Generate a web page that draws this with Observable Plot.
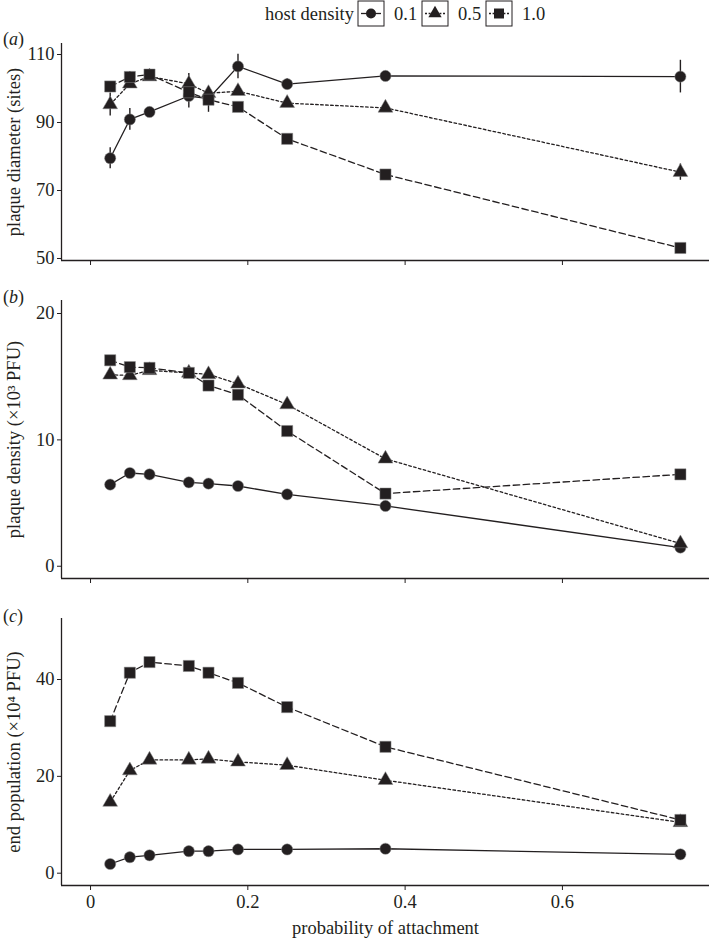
<!DOCTYPE html>
<html>
<head>
<meta charset="utf-8">
<script src="https://cdn.jsdelivr.net/npm/d3@7"></script>
<script src="https://cdn.jsdelivr.net/npm/@observablehq/plot@0.6"></script>
<style>
  html, body { margin: 0; padding: 0; background: #fff; }
  #chart { position: relative; width: 718px; height: 939px; font-family: "Liberation Serif", "Times New Roman", Times, "DejaVu Serif", serif; color: #231f20; }
  #chart > * { position: absolute; left: 0; }
  #chart svg, #chart svg text { font-family: "Liberation Serif", "Times New Roman", Times, "DejaVu Serif", serif !important; }
  #chart svg [aria-label$="tick label"], #chart svg [aria-label$="tick label"] text { font-size: 18.5px !important; }
  .plab { font-size: 18px; left: 3px !important; }
</style>
</head>
<body>
<div id="chart"></div>
<script>
// ---------- data ----------
const attachment = [0.025, 0.05, 0.075, 0.125, 0.15, 0.1875, 0.25, 0.375, 0.75];
const densities = ["0.1", "0.5", "1.0"];

// (a) plaque diameter (sites), with error half-widths
const diameter01 = [79.5, 90.9, 93.1, 97.8, 97.0, 106.5, 101.3, 103.7, 103.5];
const diameter05 = [95.3, 101.4, 103.5, 101.4, 98.6, 99.2, 95.7, 94.3, 75.4];
const diameter10 = [100.6, 103.4, 104.1, 98.9, 96.7, 94.6, 85.2, 74.7, 53.1];
const diamErr01 = [3.1, 3.2, 0.8, 3.5, 1.0, 3.6, 1.6, 0.6, 4.8];
const diamErr05 = [3.4, 1.0, 1.0, 3.0, 1.0, 0.8, 0.8, 0.6, 2.4];
const diamErr10 = [1.0, 1.5, 1.0, 1.0, 3.7, 0.6, 0.6, 0.5, 0.8];

// (b) plaque density (x10^3 PFU)
const plaqueDensity01 = [6.46, 7.38, 7.27, 6.64, 6.54, 6.35, 5.69, 4.77, 1.48];
const plaqueDensity05 = [15.15, 15.1, 15.5, 15.3, 15.18, 14.44, 12.8, 8.5, 1.8];
const plaqueDensity10 = [16.3, 15.76, 15.7, 15.3, 14.3, 13.57, 10.7, 5.75, 7.27];

// (c) end population (x10^4 PFU)
const endPop01 = [1.9, 3.3, 3.7, 4.55, 4.55, 4.9, 4.9, 5.05, 3.9];
const endPop05 = [14.7, 21.2, 23.4, 23.4, 23.6, 23.0, 22.3, 19.2, 10.5];
const endPop10 = [31.4, 41.4, 43.6, 42.8, 41.4, 39.3, 34.3, 26.1, 11.0];

const xTicks = [0, 0.2, 0.4, 0.6];
const yTicksA = [50, 70, 90, 110];
const yTicksB = [0, 10, 20];
const yTicksC = [0, 20, 40];

// ---------- styling ----------
const INK = "#231f20";
const FONT = "'Liberation Serif', 'Times New Roman', Times, 'DejaVu Serif', serif";
const seriesStyle = {
  "0.1": {symbol: "circle", r: 5.6, dash: null},
  "0.5": {symbol: "triangle", r: 5.5, dash: "2.6,2.4"},
  "1.0": {symbol: "square", r: 6.3, dash: "6.5,3.5"}
};

function rows(v01, v05, v10, e01, e05, e10) {
  const out = [];
  [[v01, e01, "0.1"], [v05, e05, "0.5"], [v10, e10, "1.0"]].forEach(([vals, errs, dens]) => {
    vals.forEach((v, i) => out.push({x: attachment[i], y: v, e: errs ? errs[i] : 0, density: dens}));
  });
  return out;
}

const xDomain = [-0.0369, 0.787];

function panel({data, yDomain, yTicks, yLabel, height, marginBottom, showXLabels, errors}) {
  const marks = [
    Plot.ruleX([xDomain[0]], {stroke: INK, strokeWidth: 1.3}),
    Plot.ruleY([yDomain[0]], {stroke: INK, strokeWidth: 1.3}),
    Plot.axisY({ticks: yTicks, tickSize: 4, tickPadding: 3, label: yLabel, labelAnchor: "center",
      labelArrow: false, labelOffset: 55, fontSize: 18.5, stroke: INK}),
    Plot.axisX({ticks: xTicks, tickSize: 5, tickPadding: 4, fontSize: 18.5,
      tickFormat: showXLabels ? (d => d === 0 ? "0" : d3.format(".1f")(d)) : (() => ""),
      label: showXLabels ? "probability of attachment" : null, labelAnchor: "center", labelArrow: false,
      labelOffset: 48})
  ];
  for (const dens of densities) {
    const s = seriesStyle[dens];
    const sub = data.filter(d => d.density === dens);
    marks.push(Plot.line(sub, {x: "x", y: "y", stroke: INK, strokeWidth: 1.3, strokeDasharray: s.dash}));
  }
  if (errors) {
    marks.push(Plot.ruleX(data.filter(d => d.e > 0), {x: "x", y1: d => d.y - d.e, y2: d => d.y + d.e, stroke: INK, strokeWidth: 1.4}));
  }
  for (const dens of densities) {
    const s = seriesStyle[dens];
    const sub = data.filter(d => d.density === dens);
    marks.push(Plot.dot(sub, {x: "x", y: "y", symbol: () => s.symbol, r: s.r, fill: INK, stroke: "#8a8a8a", strokeWidth: 0.5}));
  }
  return Plot.plot({
    width: 718, height, marginLeft: 61, marginRight: 9, marginTop: 13, marginBottom,
    x: {domain: xDomain},
    y: {domain: yDomain},
    symbol: {type: "identity"},
    style: {fontFamily: FONT, fontSize: "18.5px", color: INK, background: "transparent", overflow: "visible"},
    marks
  });
}

const chart = document.getElementById("chart");

// legend
(function legend() {
  const svg = d3.create("svg").attr("width", 718).attr("height", 30)
    .style("font-family", FONT).style("font-size", "18.5px").style("overflow", "visible");
  svg.append("text").attr("x", 354).attr("y", 19.5).attr("text-anchor", "end").attr("fill", INK).text("host density");
  const boxX = [358, 422, 486];
  densities.forEach((dens, i) => {
    const s = seriesStyle[dens];
    const g = svg.append("g").attr("transform", `translate(${boxX[i]},1)`);
    g.append("rect").attr("width", 26).attr("height", 25).attr("fill", "none").attr("stroke", INK).attr("stroke-width", 1);
    g.append("line").attr("x1", 3).attr("x2", 23).attr("y1", 12.5).attr("y2", 12.5)
      .attr("stroke", INK).attr("stroke-width", 1.3).attr("stroke-dasharray", s.dash ? "2,1.6" : null);
    const sym = {circle: d3.symbolCircle, triangle: d3.symbolTriangle, square: d3.symbolSquare}[s.symbol];
    g.append("path").attr("d", d3.symbol(sym, Math.PI * s.r * s.r * 0.8)()).attr("transform", "translate(13,12.5)").attr("fill", INK);
    svg.append("text").attr("x", boxX[i] + 36).attr("y", 19.5).attr("fill", INK).text(dens);
  });
  const node = svg.node();
  node.style.top = "0px";
  chart.appendChild(node);
})();

const pA = panel({data: rows(diameter01, diameter05, diameter10, diamErr01, diamErr05, diamErr10),
  yDomain: [49.41, 113.24], yTicks: yTicksA, yLabel: "plaque diameter (sites)", height: 240, marginBottom: 10, showXLabels: false, errors: true});
pA.style.top = "30px"; chart.appendChild(pA);

const pB = panel({data: rows(plaqueDensity01, plaqueDensity05, plaqueDensity10),
  yDomain: [-0.97, 21.03], yTicks: yTicksB, yLabel: "plaque density (×10³ PFU)", height: 301, marginBottom: 10, showXLabels: false, errors: false});
pB.style.top = "287px"; chart.appendChild(pB);

const pC = panel({data: rows(endPop01, endPop05, endPop10),
  yDomain: [-2.54, 52.6], yTicks: yTicksC, yLabel: "end population (×10⁴ PFU)", height: 334, marginBottom: 54, showXLabels: true, errors: false});
pC.style.top = "605px"; chart.appendChild(pC);

// panel letters
[["a", 29], ["b", 287], ["c", 606]].forEach(([l, top]) => {
  const d = document.createElement("div");
  d.className = "plab";
  d.style.top = top + "px";
  d.innerHTML = `(<i>${l}</i>)`;
  chart.appendChild(d);
});
</script>
</body>
</html>
